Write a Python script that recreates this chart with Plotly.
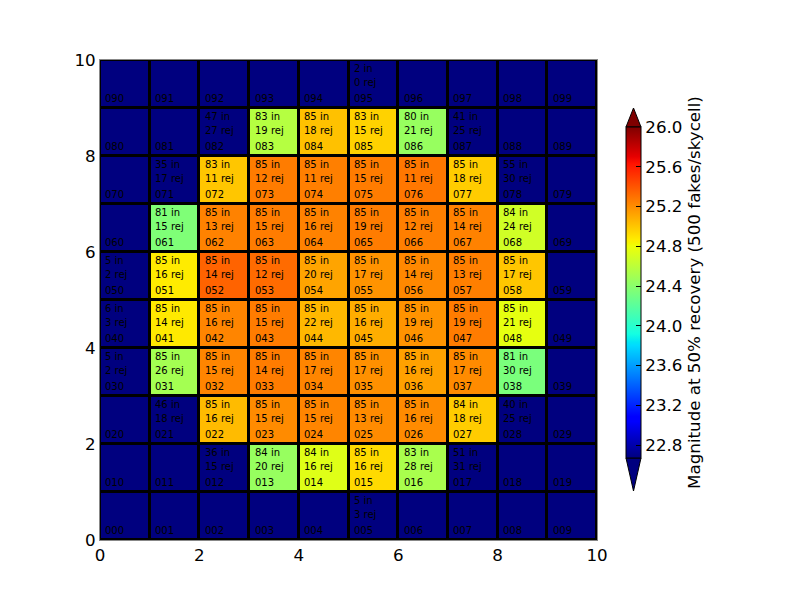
import numpy as np
import plotly.graph_objects as go

# ------------------------- DATA -------------------------
# rows listed from top (row 9) to bottom (row 0); None = empty skycell
n_in = [
    [None, None, None, None, None, 2, None, None, None, None],
    [None, None, 47, 83, 85, 83, 80, 41, None, None],
    [None, 35, 83, 85, 85, 85, 85, 85, 55, None],
    [None, 81, 85, 85, 85, 85, 85, 85, 84, None],
    [5, 85, 85, 85, 85, 85, 85, 85, 85, None],
    [6, 85, 85, 85, 85, 85, 85, 85, 85, None],
    [5, 85, 85, 85, 85, 85, 85, 85, 81, None],
    [None, 46, 85, 85, 85, 85, 85, 84, 40, None],
    [None, None, 36, 84, 84, 85, 83, 51, None, None],
    [None, None, None, None, None, 5, None, None, None, None],
]
n_rej = [
    [None, None, None, None, None, 0, None, None, None, None],
    [None, None, 27, 19, 18, 15, 21, 25, None, None],
    [None, 17, 11, 12, 11, 15, 11, 18, 30, None],
    [None, 15, 13, 15, 16, 19, 12, 14, 24, None],
    [2, 16, 14, 12, 20, 17, 14, 13, 17, None],
    [3, 14, 16, 15, 22, 16, 19, 19, 21, None],
    [2, 26, 15, 14, 17, 17, 16, 17, 30, None],
    [None, 18, 16, 15, 15, 13, 16, 18, 25, None],
    [None, None, 15, 20, 16, 16, 28, 31, None, None],
    [None, None, None, None, None, 3, None, None, None, None],
]
# magnitude at 50% recovery; 0.0 = no measurement (drawn in the "under" colour)
mag50 = [
    [0.0, 0.0, 0.0, 0.0, 0.0, 0.0, 0.0, 0.0, 0.0, 0.0],
    [0.0, 0.0, 0.0, 24.57, 25.02, 24.96, 24.45, 0.0, 0.0, 0.0],
    [0.0, 0.0, 25.00, 25.26, 25.25, 25.26, 25.28, 24.98, 0.0, 0.0],
    [0.0, 24.35, 25.24, 25.26, 25.24, 25.26, 25.25, 25.24, 24.68, 0.0],
    [0.0, 24.87, 25.35, 25.32, 25.12, 25.18, 25.22, 25.25, 25.00, 0.0],
    [0.0, 24.88, 25.23, 25.26, 25.05, 25.09, 25.18, 25.26, 24.77, 0.0],
    [0.0, 24.50, 25.23, 25.26, 25.23, 25.19, 25.13, 25.21, 24.33, 0.0],
    [0.0, 0.0, 25.04, 25.21, 25.23, 25.21, 25.21, 24.98, 0.0, 0.0],
    [0.0, 0.0, 0.0, 24.45, 24.74, 24.93, 24.52, 0.0, 0.0, 0.0],
    [0.0, 0.0, 0.0, 0.0, 0.0, 0.0, 0.0, 0.0, 0.0, 0.0],
]
zmin, zmax = 22.67, 26.0
cb_ticks = [22.8, 23.2, 23.6, 24.0, 24.4, 24.8, 25.2, 25.6, 26.0]
axis_ticks = [0, 2, 4, 6, 8, 10]

# flip so index 0 is the bottom row
n_in = n_in[::-1]
n_rej = n_rej[::-1]
mag50 = mag50[::-1]

# ---------------------- JET COLOURSCALE ----------------------
stops = [0, 0.11, 0.125, 0.34, 0.35, 0.375, 0.64, 0.65, 0.66, 0.89, 0.91, 1.0]
red = np.interp(stops, [0, 0.35, 0.66, 0.89, 1], [0, 0, 1, 1, 0.5])
green = np.interp(stops, [0, 0.125, 0.375, 0.64, 0.91, 1], [0, 0, 1, 1, 0, 0])
blue = np.interp(stops, [0, 0.11, 0.34, 0.65, 1], [0.5, 1, 1, 0, 0])
jet = [[s, f"rgb({int(r*255)},{int(g*255)},{int(b*255)})"]
       for s, r, g, b in zip(stops, red, green, blue)]

# ---------------------- FIGURE ----------------------
fig = go.Figure(go.Heatmap(
    z=mag50,
    x=[c + 0.5 for c in range(10)],
    y=[r + 0.5 for r in range(10)],
    zmin=zmin, zmax=zmax,
    colorscale=jet,
    xgap=3, ygap=3,
    hoverinfo="skip",
    colorbar=dict(
        x=1.058, xanchor="left", xpad=0,
        y=0.5156, yanchor="middle", ypad=0,
        len=331, lenmode="pixels",
        thickness=15,
        outlinecolor="black", outlinewidth=1,
        tickvals=cb_ticks,
        ticktext=[f"{t:.1f}" for t in cb_ticks],
        ticks="inside", ticklen=5, tickcolor="black",
        tickfont=dict(size=16.7, color="black"),
        title=dict(text="Magnitude at 50% recovery (500 fakes/skycell)",
                   side="right", font=dict(size=16.7, color="black")),
    ),
))

# cell labels: two count lines at the top, cell id at the bottom
label_font = dict(size=10, color="black")
for r in range(10):
    for c in range(10):
        lines = [(f"0{r}{c}", 0.19)]
        if n_in[r][c] is not None:
            lines += [(f"{n_in[r][c]} in", 0.827), (f"{n_rej[r][c]} rej", 0.535)]
        for txt, dy in lines:
            fig.add_annotation(x=c + 0.07, y=r + dy, xref="x", yref="y",
                               text=txt, showarrow=False, xanchor="left",
                               yanchor="middle", font=label_font)

# colourbar extension triangles (reference pixel positions -> paper coords)
def px(xp, yp):
    return (xp - 100) / 497, (540 - yp) / 480

for base_y, tip_y, col in [(127, 108, jet[-1][1]), (458, 491, jet[0][1])]:
    (x0, y0), (x1, _), (xm, ym) = px(626, base_y), px(641, base_y), px(633.5, tip_y)
    fig.add_shape(type="path", xref="paper", yref="paper",
                  path=f"M {x0} {y0} L {xm} {ym} L {x1} {y0} Z",
                  fillcolor=col, line=dict(color="black", width=1))

axis_style = dict(range=[0, 10], tickvals=axis_ticks, ticks="inside", ticklen=5,
                  tickcolor="black", showgrid=False, zeroline=False,
                  showline=True, mirror=True, linecolor="#888", linewidth=1,
                  tickfont=dict(size=16.7, color="black"))
fig.update_xaxes(**axis_style)
fig.update_yaxes(**axis_style)

# page body adds an 8px offset, so margins are shifted to compensate
fig.update_layout(
    width=800, height=600,
    margin=dict(l=92, r=211, t=52, b=68),
    plot_bgcolor="black", paper_bgcolor="white",
    font=dict(family="DejaVu Sans", color="black"),
    showlegend=False,
)

fig.write_html("out.html")
